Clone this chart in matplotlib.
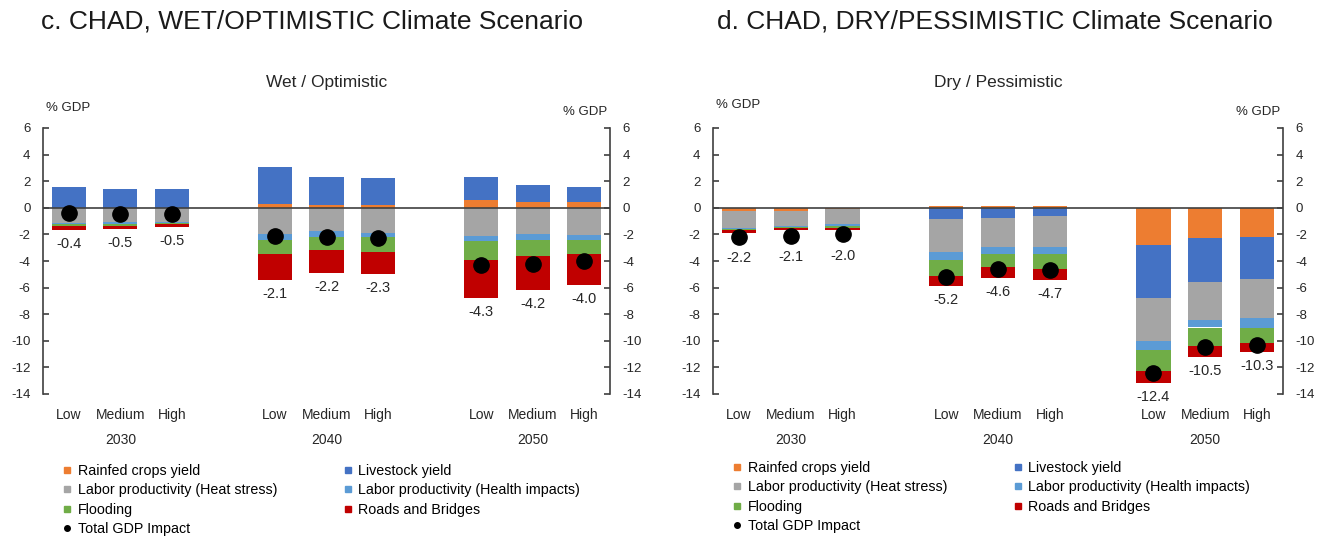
import matplotlib

matplotlib.use("Agg")
import matplotlib.pyplot as plt
import matplotlib.transforms as mtransforms
from matplotlib.lines import Line2D
import numpy as np

plt.rcParams["font.family"] = ["Liberation Sans", "DejaVu Sans"]
plt.rcParams["axes.unicode_minus"] = False

SCENARIOS = ["Low", "Medium", "High"]
YEARS = ["2030", "2040", "2050"]
SERIES = [
    "Rainfed crops yield",
    "Livestock yield",
    "Labor productivity (Heat stress)",
    "Labor productivity (Health impacts)",
    "Flooding",
    "Roads and Bridges",
]
COLORS = ["#ED7D31", "#4472C4", "#A5A5A5", "#5B9BD5", "#70AD47", "#C00000"]

# wet / optimistic, % GDP, order: 2030 L/M/H, 2040 L/M/H, 2050 L/M/H
WET_RAINFED = [0.0, 0.0, 0.0, 0.25, 0.2, 0.2, 0.55, 0.45, 0.45]
WET_LIVESTOCK = [1.55, 1.4, 1.4, 2.8, 2.1, 2.05, 1.8, 1.3, 1.15]
WET_HEAT = [-1.15, -1.1, -1.05, -1.95, -1.75, -1.9, -2.1, -1.95, -2.05]
WET_HEALTH = [-0.1, -0.1, -0.1, -0.45, -0.45, -0.3, -0.4, -0.45, -0.35]
WET_FLOOD = [-0.15, -0.15, -0.1, -1.05, -1.0, -1.1, -1.4, -1.2, -1.1]
WET_ROADS = [-0.25, -0.25, -0.2, -2.0, -1.7, -1.7, -2.85, -2.55, -2.3]
WET_TOTAL = [-0.4, -0.5, -0.5, -2.1, -2.2, -2.3, -4.3, -4.2, -4.0]

# dry / pessimistic
DRY_RAINFED = [-0.25, -0.25, -0.1, 0.1, 0.1, 0.1, -2.8, -2.25, -2.2]
DRY_LIVESTOCK = [0.0, 0.0, 0.0, -0.85, -0.75, -0.65, -4.0, -3.3, -3.15]
DRY_HEAT = [-1.25, -1.1, -1.15, -2.5, -2.2, -2.3, -3.25, -2.9, -2.95]
DRY_HEALTH = [-0.1, -0.1, -0.15, -0.55, -0.5, -0.5, -0.65, -0.55, -0.7]
DRY_FLOOD = [-0.1, -0.1, -0.1, -1.2, -1.0, -1.15, -1.6, -1.4, -1.15]
DRY_ROADS = [-0.2, -0.15, -0.2, -0.8, -0.8, -0.8, -0.9, -0.8, -0.7]
DRY_TOTAL = [-2.2, -2.1, -2.0, -5.2, -4.6, -4.7, -12.4, -10.5, -10.3]

POSITIONS = np.array([0, 1, 2, 4, 5, 6, 8, 9, 10])
AXIS_COLOR = "#404040"
TEXT_COLOR = "#262626"


def draw_panel(ax, parts, totals, subtitle, gdp_y):
    pos_base = np.zeros(len(POSITIONS))
    neg_base = np.zeros(len(POSITIONS))
    for values, color in zip(parts, COLORS):
        values = np.asarray(values, dtype=float)
        bottom = np.where(values >= 0, pos_base, neg_base)
        ax.bar(POSITIONS, values, 0.66, bottom=bottom, color=color, linewidth=0, zorder=2)
        pos_base = pos_base + np.clip(values, 0, None)
        neg_base = neg_base + np.clip(values, None, 0)
    ax.axhline(0, color=AXIS_COLOR, linewidth=1.2, zorder=3)
    ax.plot(POSITIONS, totals, "o", color="black", markersize=11, zorder=4)
    for x, total, low in zip(POSITIONS, totals, neg_base):
        lowest = min(low, total - 0.55)
        ax.annotate(f"{total:.1f}", (x, lowest), xytext=(0, -5), textcoords="offset points",
                    ha="center", va="top", fontsize=10.5, color=TEXT_COLOR)

    ax.set_xlim(-0.5, 10.5)
    ax.set_ylim(-14, 6)
    ax.set_yticks(range(-14, 7, 2))
    ax.tick_params(axis="y", direction="in", length=4, width=1.2, color=AXIS_COLOR,
                   left=True, right=True, labelleft=True, labelright=True,
                   labelsize=9.5, pad=9, labelcolor=TEXT_COLOR)
    ax.set_xticks(POSITIONS)
    ax.set_xticklabels(SCENARIOS * 3)
    ax.tick_params(axis="x", length=0, labelsize=10, pad=10, labelcolor=TEXT_COLOR)
    for side in ("top", "bottom"):
        ax.spines[side].set_visible(False)
    for side in ("left", "right"):
        ax.spines[side].set_color(AXIS_COLOR)
        ax.spines[side].set_linewidth(1.2)

    trans = mtransforms.blended_transform_factory(ax.transData, ax.transAxes)
    for i, year in enumerate(YEARS):
        ax.text(POSITIONS[3 * i + 1], -0.173, year, transform=trans, ha="center", va="center",
                fontsize=10, color=TEXT_COLOR)
    ax.text(0.5, 1.17, subtitle, transform=ax.transAxes, ha="center", va="center",
            fontsize=12.5, color=TEXT_COLOR)
    ax.text(0.006, gdp_y, "% GDP", transform=ax.transAxes, ha="left", va="center", fontsize=9.5,
            color=TEXT_COLOR)
    ax.text(0.995, 1.06, "% GDP", transform=ax.transAxes, ha="right", va="center", fontsize=9.5,
            color=TEXT_COLOR)


def legend_handles():
    handles = [Line2D([], [], linestyle="none", marker="s", markersize=5, color=c) for c in COLORS]
    dot = Line2D([], [], linestyle="none", marker="o", markersize=4, color="black")
    order = [0, 2, 4, 1, 3, 5]
    labels = [SERIES[i] for i in order]
    hs = [handles[i] for i in order]
    hs.insert(3, dot)
    labels.insert(3, "Total GDP Impact")
    return hs, labels


fig = plt.figure(figsize=(13.26, 5.38), dpi=100)
ax_wet = fig.add_axes([43 / 1326, 1 - 394 / 538, 567 / 1326, 266 / 538])
ax_dry = fig.add_axes([713 / 1326, 1 - 394 / 538, 570 / 1326, 266 / 538])

draw_panel(ax_wet, [WET_RAINFED, WET_LIVESTOCK, WET_HEAT, WET_HEALTH, WET_FLOOD, WET_ROADS],
           WET_TOTAL, "Wet / Optimistic", 1.075)
draw_panel(ax_dry, [DRY_RAINFED, DRY_LIVESTOCK, DRY_HEAT, DRY_HEALTH, DRY_FLOOD, DRY_ROADS],
           DRY_TOTAL, "Dry / Pessimistic", 1.085)

fig.text(312 / 1326, 1 - 22 / 538, "c. CHAD, WET/OPTIMISTIC Climate Scenario", ha="center",
         va="center", fontsize=19, color="#1a1a1a")
fig.text(995 / 1326, 1 - 22 / 538, "d. CHAD, DRY/PESSIMISTIC Climate Scenario", ha="center",
         va="center", fontsize=19, color="#1a1a1a")

handles, labels = legend_handles()
for x0, y0 in ((63 / 1326, 1 - 464 / 538), (733 / 1326, 1 - 461 / 538)):
    fig.legend(handles, labels, loc="upper left", bbox_to_anchor=(x0, y0), ncol=2, frameon=False,
               fontsize=10.3, handlelength=0.6, handletextpad=0.42, columnspacing=4.66,
               labelspacing=0.38, borderpad=0, borderaxespad=0)

fig.savefig("out.png", dpi=100)
